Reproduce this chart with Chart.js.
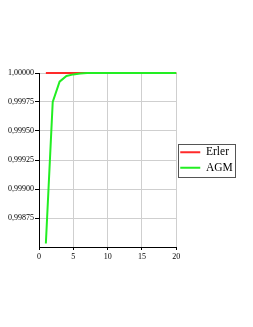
<!DOCTYPE html>
<html>
<head>
<meta charset="utf-8">
<script src="https://cdn.jsdelivr.net/npm/chart.js@4.4.0/dist/chart.umd.min.js"></script>
<style>html,body{margin:0;padding:0;background:#fff}</style>
</head>
<body>
<canvas id="c" width="253" height="327"></canvas>
<script>
const nValues = [1, 2, 3, 4, 5, 6, 7, 8, 9, 10, 11, 12, 13, 14, 15, 16, 17, 18, 19, 20];
const erlerValues = [1, 1, 1, 1, 1, 1, 1, 1, 1, 1, 1, 1, 1, 1, 1, 1, 1, 1, 1, 1];
const agmValues = [0.99853, 0.99975, 0.999925, 0.999974, 0.999988, 0.999996, 1, 1, 1, 1,
                   1, 1, 1, 1, 1, 1, 1, 1, 1, 1];
const seriesNames = ['Erler', 'AGM'];

const SERIF = '"Liberation Serif", "DejaVu Serif", serif';

const toPoints = (ys) => nValues.map((x, i) => ({x: x, y: ys[i]}));

// box around the legend, like the original
const legendBorder = {
    id: 'legendBorder',
    afterDraw(chart) {
        const lg = chart.legend;
        if (!lg || !lg.legendHitBoxes.length) return;
        const boxes = lg.legendHitBoxes;
        const left = Math.min(...boxes.map(b => b.left)) - 2;
        const top = Math.min(...boxes.map(b => b.top)) - 3;
        const right = Math.max(...boxes.map(b => b.left + b.width)) + 2;
        const bottom = Math.max(...boxes.map(b => b.top + b.height)) + 3;
        const ctx = chart.ctx;
        ctx.save();
        ctx.strokeStyle = '#555';
        ctx.lineWidth = 1;
        ctx.strokeRect(Math.round(left) + 0.5, Math.round(top) + 0.5,
                       Math.round(right - left), Math.round(bottom - top));
        ctx.restore();
    }
};

new Chart(document.getElementById('c'), {
    type: 'line',
    data: {
        datasets: [
            {
                label: seriesNames[0],
                data: toPoints(erlerValues),
                borderColor: '#ff2a2a',
                backgroundColor: '#ff2a2a',
                borderWidth: 2,
                pointRadius: 0,
                tension: 0,
                clip: false,
                order: 1
            },
            {
                label: seriesNames[1],
                data: toPoints(agmValues),
                borderColor: '#22ee22',
                backgroundColor: '#22ee22',
                borderWidth: 2,
                pointRadius: 0,
                tension: 0,
                clip: false,
                order: 0
            }
        ]
    },
    options: {
        responsive: false,
        animation: false,
        layout: {padding: {left: 0, top: 73, right: 18, bottom: 60}},
        scales: {
            x: {
                type: 'linear',
                min: 0,
                max: 20,
                afterFit: (s) => { s.height = 20; },
                ticks: {
                    stepSize: 5,
                    color: '#000',
                    font: {family: SERIF, size: 8},
                    padding: 2
                },
                grid: {color: '#cfcfcf', tickColor: '#000', tickLength: 3},
                border: {color: '#000', width: 1}
            },
            y: {
                min: 0.9985,
                max: 1.0,
                afterFit: (s) => { s.width = 39; },
                ticks: {
                    stepSize: 0.00025,
                    color: '#000',
                    font: {family: SERIF, size: 8},
                    padding: 1,
                    callback: (v) => {
                        const r = Math.round(v * 100000) / 100000;
                        if (r <= 0.9985) return null;
                        return r.toFixed(5).replace('.', ',');
                    }
                },
                grid: {color: '#cfcfcf', tickColor: '#000', tickLength: 4},
                border: {color: '#000', width: 1}
            }
        },
        plugins: {
            tooltip: {enabled: false},
            legend: {
                position: 'right',
                fullSize: false,
                labels: {
                    usePointStyle: true,
                    pointStyle: 'line',
                    pointStyleWidth: 20,
                    color: '#000',
                    font: {family: SERIF, size: 11.5},
                    padding: 4,
                    sort: (a, b) => a.datasetIndex - b.datasetIndex
                }
            }
        }
    },
    plugins: [legendBorder]
});
</script>
</body>
</html>
